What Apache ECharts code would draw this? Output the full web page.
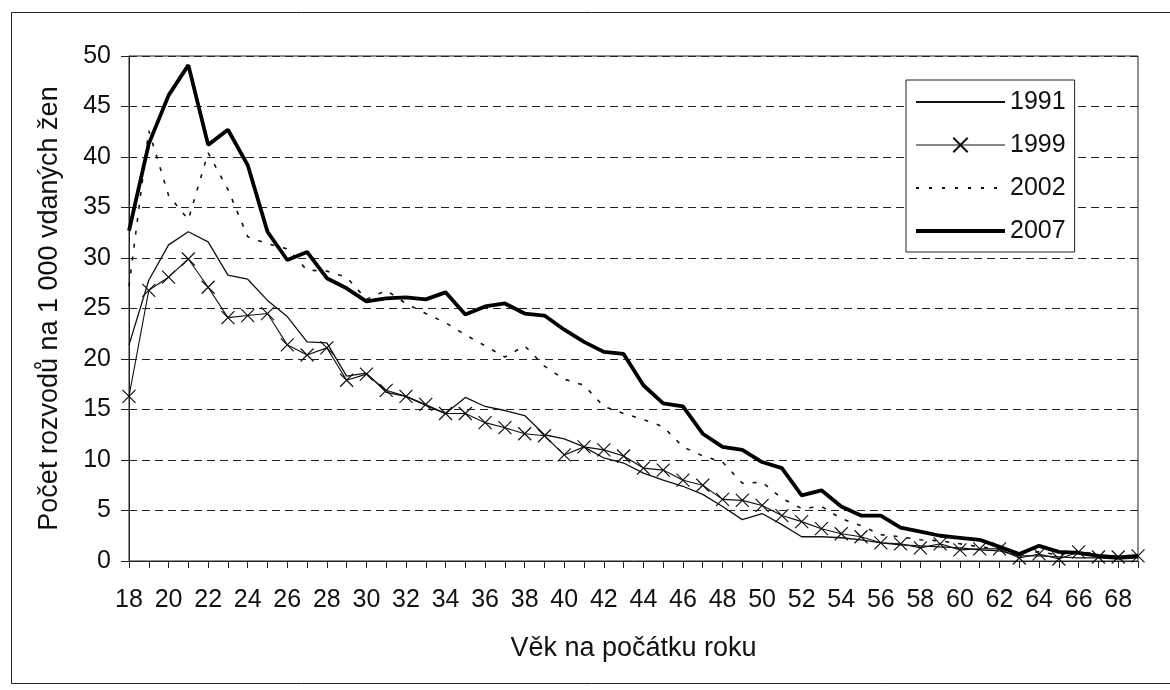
<!DOCTYPE html>
<html>
<head>
<meta charset="utf-8">
<script src="https://cdn.jsdelivr.net/npm/echarts@6/dist/echarts.min.js"></script>
<style>
html,body{margin:0;padding:0;background:#fff;}
#c{width:1170px;height:690px;}
</style>
</head>
<body>
<div id="c"></div>
<script>
const ages = ['18','19','20','21','22','23','24','25','26','27','28','29','30','31','32','33','34','35','36','37','38','39','40','41','42','43','44','45','46','47','48','49','50','51','52','53','54','55','56','57','58','59','60','61','62','63','64','65','66','67','68','69'];
const v1991 = [21.4,27.8,31.3,32.6,31.6,28.3,27.9,25.8,24.2,21.7,21.6,18.3,18.6,16.7,16.3,15.4,14.6,16.2,15.3,14.9,14.4,12.5,12.1,11.3,10.2,9.7,8.7,8.0,7.4,6.6,5.4,4.1,4.7,3.6,2.4,2.4,2.3,2.1,1.8,1.6,1.5,1.4,1.3,1.1,1.0,0.5,0.5,0.4,0.3,0.3,0.2,0.3];
const v1999 = [16.3,26.8,28.1,29.9,27.1,24.1,24.3,24.5,21.4,20.4,21.1,17.9,18.5,16.9,16.3,15.5,14.6,14.6,13.7,13.2,12.6,12.4,10.5,11.3,11.0,10.4,9.2,9.0,8.0,7.5,6.1,6.0,5.5,4.5,3.9,3.2,2.7,2.4,1.8,1.7,1.3,1.7,1.1,1.2,1.2,0.3,0.7,0.2,0.9,0.4,0.4,0.5];
const v2002 = [27.2,42.6,36.2,33.8,40.4,36.8,32.1,31.4,30.9,28.8,28.7,28.1,25.9,26.8,25.5,24.5,23.6,22.4,21.3,20.2,21.3,19.3,18.0,17.4,15.3,14.6,14.0,13.3,11.3,10.4,9.8,7.7,7.8,6.2,5.2,5.4,4.2,3.5,2.6,2.4,2.1,2.0,1.7,1.4,1.2,0.8,0.9,0.6,1.0,0.6,0.4,0.5];
const v2007 = [32.7,41.3,46.1,49.1,41.2,42.7,39.2,32.6,29.8,30.6,28.0,27.0,25.7,26.0,26.1,25.9,26.6,24.4,25.2,25.5,24.5,24.3,22.9,21.7,20.7,20.5,17.4,15.6,15.3,12.6,11.3,11.0,9.8,9.2,6.5,7.0,5.4,4.5,4.5,3.3,2.9,2.5,2.3,2.1,1.4,0.7,1.5,0.9,0.8,0.5,0.35,0.5];
const seriesNames = ['1991','1999','2002','2007'];
const xTitle = 'Věk na počátku roku';
const yTitle = 'Počet rozvodů na 1 000 vdaných žen';

const FONT = '"Liberation Sans", Arial, sans-serif';
const X_PATH = 'path://M0,0L10,10M10,0L0,10';
const chart = echarts.init(document.getElementById('c'), null, {renderer:'canvas'});
chart.setOption({
  animation: false,
  backgroundColor: '#fff',
  textStyle: {fontFamily: FONT, color: '#000'},
  graphic: [{
    type: 'rect', left: 9, top: 10, silent: true,
    shape: {width: 1180, height: 671},
    style: {fill: 'none', stroke: '#222', lineWidth: 1}
  }],
  grid: {left: 129, top: 56, right: 32, bottom: 129, show: true, borderColor: '#222', borderWidth: 1, backgroundColor: 'transparent'},
  legend: {
    orient: 'vertical', left: 906, top: 80,
    data: [
      {name: seriesNames[0], itemStyle: {opacity: 0}, lineStyle: {width: 2, color: '#111'}},
      {name: seriesNames[1], lineStyle: {width: 1.2, color: '#111'}},
      {name: seriesNames[2], itemStyle: {opacity: 0}, lineStyle: {width: 2, color: '#111', type: [3, 10]}},
      {name: seriesNames[3], itemStyle: {opacity: 0}, lineStyle: {width: 4, color: '#000'}}
    ],
    backgroundColor: '#fff', borderColor: '#222', borderWidth: 1,
    padding: [9, 9, 8, 8],
    itemWidth: 89, itemHeight: 18, itemGap: 17,
    textStyle: {fontFamily: FONT, fontSize: 25, color: '#111', lineHeight: 26}
  },
  xAxis: {
    type: 'category', data: ages, boundaryGap: false,
    name: xTitle, nameLocation: 'middle', nameGap: 74,
    nameTextStyle: {fontFamily: FONT, fontSize: 27, color: '#111'},
    axisLine: {lineStyle: {color: '#222', width: 1}},
    axisTick: {show: true, interval: 0, length: 7, lineStyle: {color: '#222'}},
    axisLabel: {interval: 1, margin: 27, fontFamily: FONT, fontSize: 25, color: '#111'},
    splitLine: {show: false}
  },
  yAxis: [{
    type: 'value', min: 0, max: 50, interval: 5,
    name: yTitle, nameLocation: 'middle', nameGap: 66,
    nameTextStyle: {fontFamily: FONT, fontSize: 27, color: '#111'},
    axisLine: {show: true, lineStyle: {color: '#222', width: 1}},
    axisTick: {show: true, length: 8, lineStyle: {color: '#222'}},
    axisLabel: {margin: 18, fontFamily: FONT, fontSize: 25, color: '#111'},
    splitLine: {show: true, lineStyle: {color: '#222', width: 1, type: [8, 5]}}
  }, {
    type: 'value', min: 0, max: 50, interval: 5, position: 'left',
    axisLine: {show: false},
    axisTick: {show: true, inside: true, length: 8, lineStyle: {color: '#222'}},
    axisLabel: {show: false},
    splitLine: {show: false}
  }],
  series: [{
    name: seriesNames[0], type: 'line', data: v1991, symbol: 'none', z: 3,
    lineStyle: {color: '#111', width: 1.3},
    itemStyle: {color: '#111'}
  }, {
    name: seriesNames[1], type: 'line', data: v1999, z: 4,
    symbol: X_PATH, symbolSize: 13, showSymbol: true, showAllSymbol: true,
    lineStyle: {color: '#111', width: 1.1},
    itemStyle: {color: '#111', borderColor: '#111', borderWidth: 1.2}
  }, {
    name: seriesNames[2], type: 'line', data: v2002, symbol: 'none', z: 2,
    lineStyle: {color: '#111', width: 1.6, type: [4, 9]},
    itemStyle: {color: '#111'}
  }, {
    name: seriesNames[3], type: 'line', data: v2007, symbol: 'none', z: 5,
    lineStyle: {color: '#000', width: 3.8},
    itemStyle: {color: '#000'}
  }]
});
</script>
</body>
</html>
